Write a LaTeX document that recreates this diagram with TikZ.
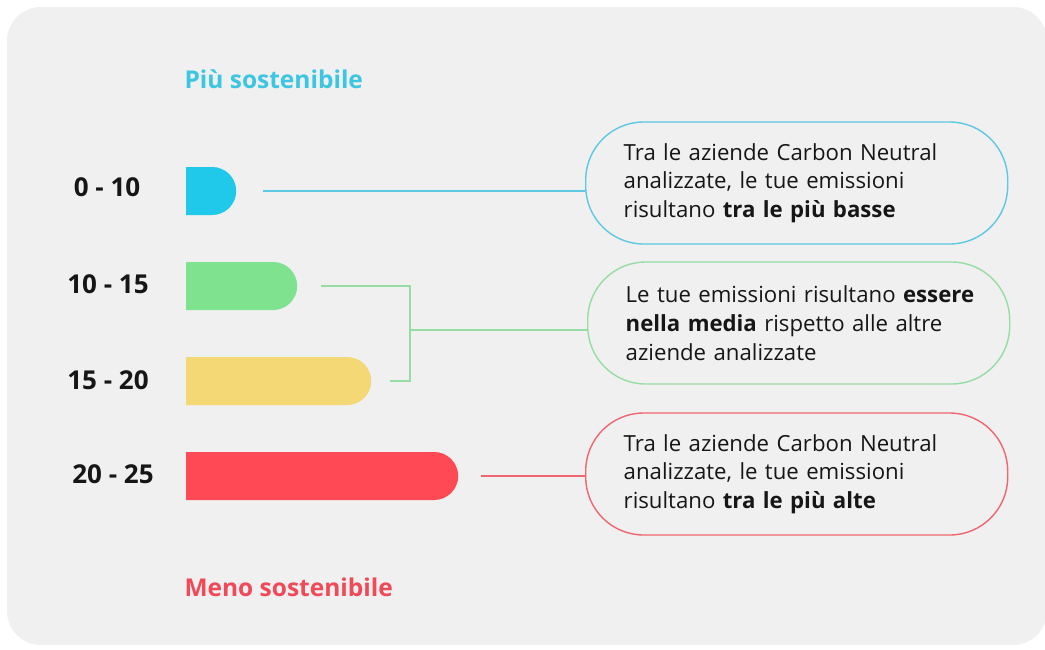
\documentclass[tikz,border=0pt]{standalone}
\usepackage{fontspec}
\IfFontExistsTF{Open Sans Bold}
  {\setmainfont{Open Sans}[BoldFont={Open Sans Bold}]}
  {\setmainfont{Liberation Sans}}
\IfFontExistsTF{Open Sans SemiBold}
  {\newfontfamily\semib{Open Sans SemiBold}}
  {\newcommand\semib{\bfseries}}
\usetikzlibrary{shapes.misc}
\definecolor{bgc}{HTML}{F0F0F0}
\definecolor{cyanbar}{HTML}{20C8EA}
\definecolor{cyanline}{HTML}{5CC8E2}
\definecolor{cyantxt}{HTML}{3CC6E2}
\definecolor{greenbar}{HTML}{7EE28F}
\definecolor{greenline}{HTML}{95DDA3}
\definecolor{yellowbar}{HTML}{F5D876}
\definecolor{redbar}{HTML}{FF4A55}
\definecolor{redline}{HTML}{EE6670}
\definecolor{redtxt}{HTML}{F04A58}
\definecolor{txt}{HTML}{161616}
\tikzset{
  barbox/.style={rounded rectangle, rounded rectangle left arc=none, anchor=west,
    minimum height=48pt, inner sep=0pt, draw=none},
  callout/.style={rectangle, rounded corners=58pt, line width=1.4pt, fill=bgc,
    minimum height=122pt, text width=346pt, inner xsep=38pt, inner ysep=0pt,
    align=left, anchor=west, text=txt, font=\fontsize{22.2}{28.7}\selectfont},
  rangelbl/.style={font=\fontsize{26}{28}\selectfont\semib, text=txt, anchor=center},
  titlelbl/.style={font=\fontsize{24.5}{26}\selectfont\semib, anchor=west},
  conn/.style={line width=1.3pt}
}
\begin{document}
\begin{tikzpicture}[x=1pt,y=-1pt]
\useasboundingbox (0,0) rectangle (1045,649);
\fill[white] (0,0) rectangle (1045,649);
\fill[bgc, rounded corners=34pt] (7,7) rectangle (1047,645);

\node[titlelbl, text=cyantxt] (top) at (181,79) {Più sostenibile};
\node[titlelbl, text=redtxt] (bot) at (181,587) {Meno sostenibile};

\node[rangelbl] (r1) at (107,187) {0 - 10};
\node[rangelbl] (r2) at (108,284) {10 - 15};
\node[rangelbl] (r3) at (108,380) {15 - 20};
\node[rangelbl] (r4) at (113,474) {20 - 25};

\node[barbox, fill=cyanbar, minimum width=50pt] (b1) at (186,191) {};
\node[barbox, fill=greenbar, minimum width=111pt] (b2) at (186,286) {};
\node[barbox, fill=yellowbar, minimum width=185pt] (b3) at (186,381) {};
\node[barbox, fill=redbar, minimum width=272pt] (b4) at (186,476) {};

\node[callout, draw=cyanline] (c1) at (585,183)
  {Tra le aziende Carbon Neutral\\analizzate, le tue emissioni\\risultano \textbf{tra le più basse}};
\node[callout, draw=greenline] (c2) at (587,323)
  {\mbox{Le tue emissioni risultano \textbf{essere}}\\\textbf{nella media} rispetto alle altre\\aziende analizzate};
\node[callout, draw=redline] (c3) at (585,474)
  {Tra le aziende Carbon Neutral\\analizzate, le tue emissioni\\risultano \textbf{tra le più alte}};

\coordinate (j) at (410,330);
\draw[conn, cyanline] ([xshift=27pt]b1.east) -- (b1.east -| c1.west);
\draw[conn, greenline] ([xshift=24pt]b2.east) -| (j) |- ([xshift=19pt]b3.east);
\draw[conn, greenline] (j) -- (j -| c2.west);
\draw[conn, redline] ([xshift=23pt]b4.east) -- (b4.east -| c3.west);
\end{tikzpicture}
\end{document}
